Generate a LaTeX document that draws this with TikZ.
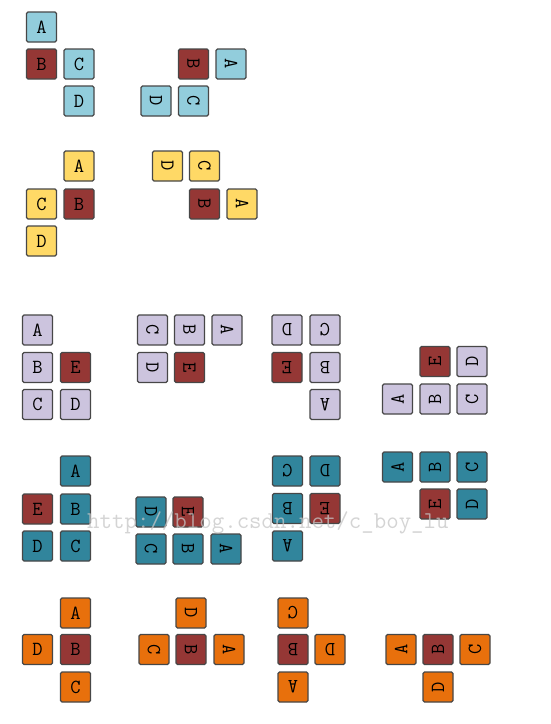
\documentclass[tikz,border=0pt]{standalone}
\usepackage{tikz}
\usetikzlibrary{backgrounds}
\definecolor{skyc}{RGB}{146,205,220}
\definecolor{goldc}{RGB}{255,217,102}
\definecolor{lilac}{RGB}{204,196,222}
\definecolor{tealc}{RGB}{49,133,156}
\definecolor{orngc}{RGB}{232,112,12}
\definecolor{redc}{RGB}{149,55,53}
\tikzset{cell/.style={draw=black!72,line width=1.3pt,rounded corners=1.5pt,minimum size=30pt,inner sep=0pt,font=\ttfamily\fontsize{20}{20}\selectfont}}

\begin{document}
\begin{tikzpicture}[x=1pt,y=-1pt]
\useasboundingbox (0,0) rectangle (550,724);
% blue pieces
\foreach \n/\x/\y/\c in {A/41.5/27/skyc,B/41.5/64/redc,C/79/64/skyc,D/79/101/skyc}
  \node[cell,fill=\c] (blueI\n) at (\x,\y) {\n};
\foreach \n/\x/\y/\c in {B/193.5/64/redc,A/231/64/skyc,D/156/101/skyc,C/193.5/101/skyc}
  \node[cell,fill=\c,rotate=-90] (blueII\n) at (\x,\y) {\n};
% yellow pieces
\foreach \n/\x/\y/\c in {A/79/166/goldc,C/41.5/204/goldc,B/79/204/redc,D/41.5/241/goldc}
  \node[cell,fill=\c] (goldI\n) at (\x,\y) {\n};
\foreach \n/\x/\y/\c in {D/167.5/166/goldc,C/204.5/166/goldc,B/204.5/204/redc,A/242/204/goldc}
  \node[cell,fill=\c,rotate=-90] (goldII\n) at (\x,\y) {\n};
% lilac pieces
\foreach \n/\x/\y/\c in {A/37.5/330/lilac,B/37.5/367.5/lilac,C/37.5/404.5/lilac,E/75.5/367.5/redc,D/75.5/404.5/lilac}
  \node[cell,fill=\c] (lilacI\n) at (\x,\y) {\n};
\foreach \n/\x/\y/\c in {C/152.5/330/lilac,B/189.5/330/lilac,A/227/330/lilac,D/152.5/367.5/lilac,E/189.5/367.5/redc}
  \node[cell,fill=\c,rotate=-90] (lilacII\n) at (\x,\y) {\n};
\foreach \n/\x/\y/\c in {D/287/330/lilac,C/325/330/lilac,E/287/367.5/redc,B/325/367.5/lilac,A/325/404.5/lilac}
  \node[cell,fill=\c,rotate=180] (lilacIII\n) at (\x,\y) {\n};
\foreach \n/\x/\y/\c in {E/435/361.5/redc,D/472/361.5/lilac,A/397.5/399/lilac,B/435/399/lilac,C/472/399/lilac}
  \node[cell,fill=\c,rotate=90] (lilacIV\n) at (\x,\y) {\n};
% teal pieces
\foreach \n/\x/\y/\c in {A/75.5/471/tealc,E/37.5/509/redc,B/75.5/509/tealc,D/37.5/546/tealc,C/75.5/546/tealc}
  \node[cell,fill=\c] (tealI\n) at (\x,\y) {\n};
\foreach \n/\x/\y/\c in {D/151/512/tealc,E/188/512/redc,C/151/549/tealc,B/188/549/tealc,A/226/549/tealc}
  \node[cell,fill=\c,rotate=-90] (tealII\n) at (\x,\y) {\n};
\foreach \n/\x/\y/\c in {C/287.5/471/tealc,D/325/471/tealc,B/287.5/508.5/tealc,E/325/508.5/redc,A/287.5/546/tealc}
  \node[cell,fill=\c,rotate=180] (tealIII\n) at (\x,\y) {\n};
\foreach \n/\x/\y/\c in {A/397.5/467/tealc,B/435/467/tealc,C/472/467/tealc,E/435/504/redc,D/472/504/tealc}
  \node[cell,fill=\c,rotate=90] (tealIV\n) at (\x,\y) {\n};
% orange pieces
\foreach \n/\x/\y/\c in {A/75.5/613/orngc,D/37.5/649.5/orngc,B/75.5/649.5/redc,C/75.5/687/orngc}
  \node[cell,fill=\c] (orngI\n) at (\x,\y) {\n};
\foreach \n/\x/\y/\c in {D/191/613/orngc,C/154/649.5/orngc,B/191/649.5/redc,A/229/649.5/orngc}
  \node[cell,fill=\c,rotate=-90] (orngII\n) at (\x,\y) {\n};
\foreach \n/\x/\y/\c in {C/293/613/orngc,B/293/649.5/redc,D/330/649.5/orngc,A/293/687/orngc}
  \node[cell,fill=\c,rotate=180] (orngIII\n) at (\x,\y) {\n};
\foreach \n/\x/\y/\c in {A/401/649.5/orngc,B/438/649.5/redc,C/475/649.5/orngc,D/438/687/orngc}
  \node[cell,fill=\c,rotate=90] (orngIV\n) at (\x,\y) {\n};
% watermark
\node[anchor=base west,inner sep=0pt,text=gray!45,opacity=0.75,font=\ttfamily\fontsize{24.2}{24.2}\selectfont] (mark) at (87,528) {http://blog.csdn.net/c\_boy\_lu};
\end{tikzpicture}
\end{document}
